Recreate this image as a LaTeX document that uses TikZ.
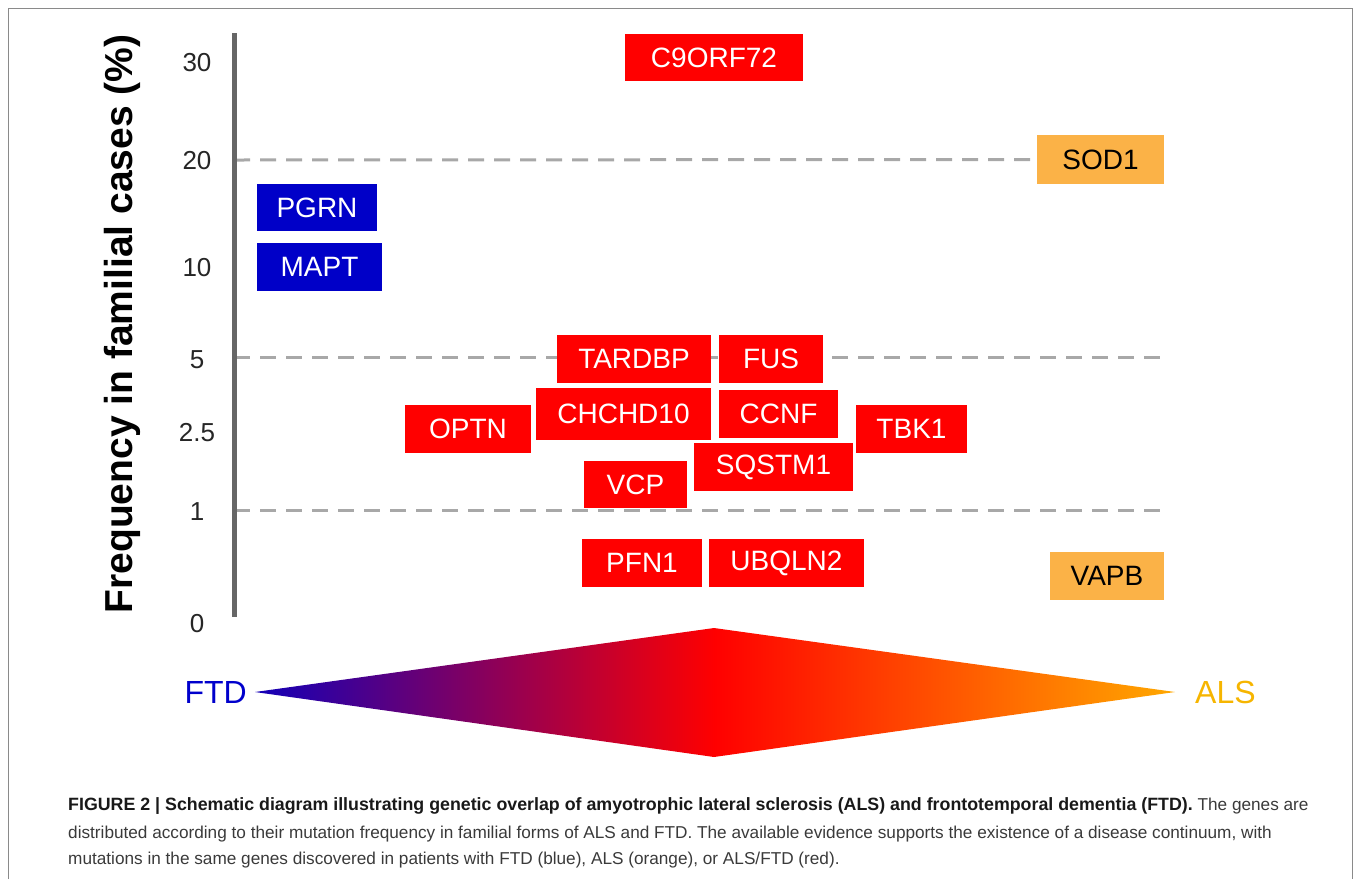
\documentclass[tikz,border=0pt]{standalone}
\usepackage{fontspec}
\setmainfont{Liberation Sans}
\usetikzlibrary{positioning}

\definecolor{genered}{HTML}{FF0000}
\definecolor{geneblue}{HTML}{0000C8}
\definecolor{geneorange}{HTML}{FBB247}
\definecolor{ftdblue}{HTML}{0000CC}
\definecolor{alsgold}{HTML}{F6B500}
\definecolor{shadeblue}{HTML}{1200B8}
\definecolor{shadeorange}{HTML}{FFA800}
\definecolor{gridgray}{HTML}{A8A8A8}
\definecolor{axisgray}{HTML}{666666}
\definecolor{framegray}{HTML}{8A8A8A}
\definecolor{captiongray}{HTML}{3A3A3A}

\pgfdeclarehorizontalshading{ftdals}{100bp}{color(0bp)=(shadeblue); color(25bp)=(shadeblue); color(50bp)=(genered); color(75bp)=(shadeorange); color(100bp)=(shadeorange)}

\newcommand{\captionhead}[1]{{\fontsize{17.8}{20}\selectfont\bfseries\color{black!90}#1}}

\tikzset{
    gene/.style={rectangle, inner sep=0pt, font=\fontsize{28}{30}\selectfont},
    bothgene/.style={gene, fill=genered, text=white},
    ftdgene/.style={gene, fill=geneblue, text=white},
    alsgene/.style={gene, fill=geneorange, text=black},
    tick/.style={font=\fontsize{26}{28}\selectfont, text=black!85},
    gridline/.style={gridgray, line width=3pt, dash pattern=on 16pt off 10pt},
    captionline/.style={anchor=west, inner sep=0pt, text=captiongray, font=\fontsize{17.2}{20}\selectfont}
}

\begin{document}
\begin{tikzpicture}[x=1pt, y=-1pt]
    \useasboundingbox (0,0) rectangle (1354,879);
    \draw[framegray, line width=1pt] (8,879) |- (1352,8) -- (1352,879);

    \coordinate (axistop) at (234,33);
    \coordinate (axisbottom) at (234,617);
    \coordinate (fivestart) at (234,357);
    \coordinate (fiveend) at (1165,357);
    \coordinate (onestart) at (234,510);
    \coordinate (oneend) at (1165,510);
    \coordinate (twentystart) at (234,160);

    \node[rotate=90, anchor=base, font=\fontsize{39}{40}\selectfont\bfseries] (ytitle) at (132,324) {Frequency in familial cases (\%)};
    \foreach \val/\ypos [count=\i] in {30/63, 20/161, 10/268, 5/360, 2.5/433, 1/512, 0/624}
        \node[tick] (tick\i) at (197,\ypos) {\val};

    \node[alsgene, minimum width=127pt, minimum height=49pt] (sod) at (1100.5,159.5) {SOD1};
    \draw[gridline] (twentystart) -- (sod.west);
    \draw[gridline] (fivestart) -- (fiveend);
    \draw[gridline] (onestart) -- (oneend);
    \draw[axisgray, line width=5pt] (axistop) -- (axisbottom);

    \node[bothgene, minimum width=178pt, minimum height=47pt] (c9orf) at (714,57.5) {C9ORF72};
    \node[ftdgene, minimum width=120pt, minimum height=47pt] (pgrn) at (317,207.5) {PGRN};
    \node[ftdgene, minimum width=125pt, minimum height=48pt] (mapt) at (319.5,267) {MAPT};
    \node[bothgene, minimum width=154pt, minimum height=48pt] (tardbp) at (634,359) {TARDBP};
    \node[bothgene, minimum width=104pt, minimum height=48pt] (fus) at (771,359) {FUS};
    \node[bothgene, minimum width=175pt, minimum height=52pt] (chchd) at (623.5,414) {CHCHD10};
    \node[bothgene, minimum width=119pt, minimum height=48pt] (ccnf) at (778.5,414) {CCNF};
    \node[bothgene, minimum width=126pt, minimum height=48pt] (optn) at (468,429) {OPTN};
    \node[bothgene, minimum width=111pt, minimum height=48pt] (tbk) at (911.5,429) {TBK1};
    \node[bothgene, minimum width=159pt, minimum height=48pt] (sqstm) at (773.5,467) {SQSTM1};
    \node[bothgene, minimum width=103pt, minimum height=47pt] (vcp) at (635.5,484.5) {VCP};
    \node[bothgene, minimum width=120pt, minimum height=48pt] (pfn) at (642,563) {PFN1};
    \node[bothgene, minimum width=155pt, minimum height=48pt] (ubqln) at (786.5,563) {UBQLN2};
    \node[alsgene, minimum width=114pt, minimum height=48pt] (vapb) at (1107,576) {VAPB};

    \coordinate (ftdtip) at (255,692);
    \coordinate (alstip) at (1175,692);
    \shade[shading=ftdals] (ftdtip) -- (714,628) -- (alstip) -- (714,757) -- cycle;
    \node[left=8pt of ftdtip, inner sep=0pt, text=ftdblue, font=\fontsize{32}{34}\selectfont] (ftd) {FTD};
    \node[right=20pt of alstip, inner sep=0pt, text=alsgold, font=\fontsize{32}{34}\selectfont] (als) {ALS};

    \node[captionline] (cap1) at (68,806) {\captionhead{FIGURE 2 | Schematic diagram illustrating genetic overlap of amyotrophic lateral sclerosis (ALS) and frontotemporal dementia (FTD).} The genes are};
    \node[captionline] (cap2) at (68,834) {distributed according to their mutation frequency in familial forms of ALS and FTD. The available evidence supports the existence of a disease continuum, with};
    \node[captionline] (cap3) at (68,860) {mutations in the same genes discovered in patients with FTD (blue), ALS (orange), or ALS/FTD (red).};
\end{tikzpicture}
\end{document}
